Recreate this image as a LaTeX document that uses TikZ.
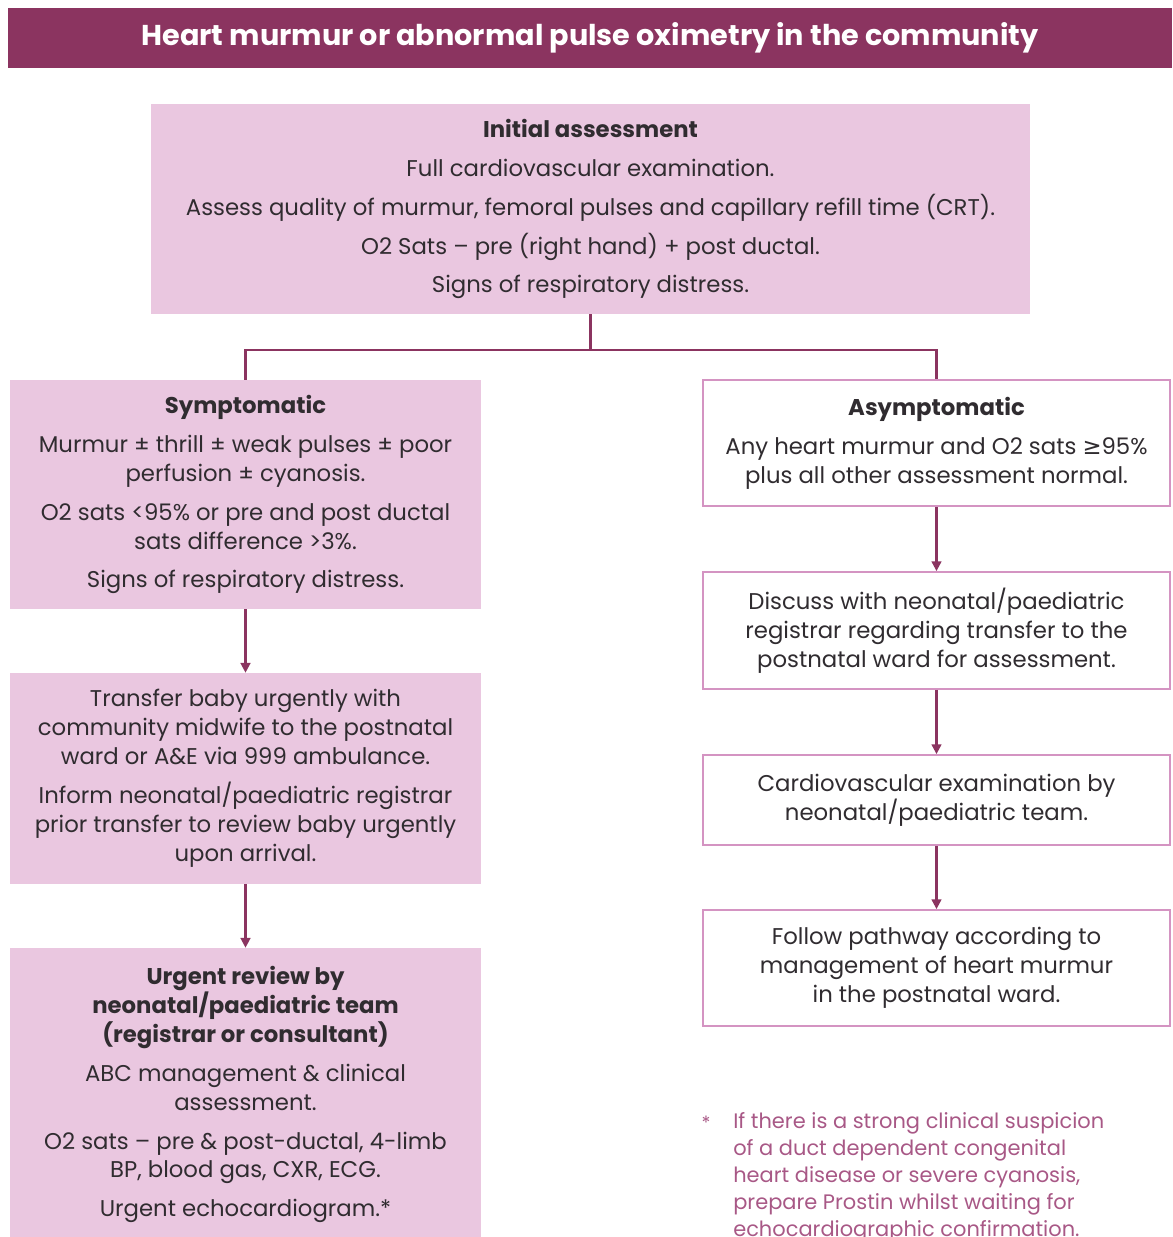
\documentclass[tikz,border=0pt]{standalone}
\usepackage{fontspec}
\usetikzlibrary{arrows.meta}
\setmainfont{Poppins}
\newfontfamily\symfont{DejaVu Sans}
\definecolor{plum}{RGB}{139,52,96}
\definecolor{blush}{RGB}{234,199,224}
\definecolor{rim}{RGB}{212,148,194}
\definecolor{ink}{RGB}{48,44,48}
\definecolor{notecol}{RGB}{168,88,134}

\begin{document}
\begin{tikzpicture}[x=0.025cm,y=-0.025cm,
	pinkbox/.style={fill=blush, draw=none, align=center, inner sep=0pt, text=ink, font=\fontsize{16.2}{20.6}\selectfont},
	whitebox/.style={pinkbox, fill=white, draw=rim, line width=1.3pt},
	flow/.style={draw=plum, line width=1.5pt},
	flowarrow/.style={flow, -{Triangle[width=7pt,length=7pt]}}]
	\useasboundingbox (0,0) rectangle (1172,1237);
	\draw (590,38) node[fill=plum, text=white, minimum width=1164*0.025cm, minimum height=60*0.025cm, font=\fontsize{20.4}{22}\selectfont\bfseries](head) {Heart murmur or abnormal pulse oximetry in the community};
	\draw (590.5,209) node[pinkbox, minimum width=879*0.025cm, minimum height=210*0.025cm](init) {\textbf{Initial assessment}\\[0.25cm] Full cardiovascular examination.\\[0.25cm] Assess quality of murmur, femoral pulses and capillary refill time (CRT).\\[0.25cm] O2 Sats -- pre (right hand) + post ductal.\\[0.25cm] Signs of respiratory distress.};
	\draw (245.5,494.5) node[pinkbox, minimum width=471*0.025cm, minimum height=229*0.025cm](symp) {\textbf{Symptomatic}\\[0.25cm] Murmur ± thrill ± weak pulses ± poor\\ perfusion ± cyanosis.\\[0.25cm] O2 sats <95\% or pre and post ductal\\ sats difference >3\%.\\[0.25cm] Signs of respiratory distress.};
	\draw (245.5,778.5) node[pinkbox, minimum width=471*0.025cm, minimum height=211*0.025cm](transfer) {Transfer baby urgently with\\ community midwife to the postnatal\\ ward or A\&E via 999 ambulance.\\[0.25cm] Inform neonatal/paediatric registrar\\ prior transfer to review baby urgently\\ upon arrival.};
	\draw (245.5,1094.5) node[pinkbox, minimum width=471*0.025cm, minimum height=293*0.025cm](urgent) {\textbf{Urgent review by}\\ \textbf{neonatal/paediatric team}\\ \textbf{(registrar or consultant)}\\[0.25cm] ABC management \& clinical\\ assessment.\\[0.25cm] O2 sats -- pre \& post-ductal, 4-limb\\ BP, blood gas, CXR, ECG.\\[0.25cm] Urgent echocardiogram.*};
	\draw (936.5,443) node[whitebox, minimum width=467*0.025cm, minimum height=126*0.025cm](asymp) {\textbf{Asymptomatic}\\[0.25cm] Any heart murmur and O2 sats {\symfont ≥}95\%\\ plus all other assessment normal.};
	\draw (936.5,630.5) node[whitebox, minimum width=467*0.025cm, minimum height=117*0.025cm](discuss) {Discuss with neonatal/paediatric\\ registrar regarding transfer to the\\ postnatal ward for assessment.};
	\draw (936.5,800) node[whitebox, minimum width=467*0.025cm, minimum height=90*0.025cm](cardio) {Cardiovascular examination by\\ neonatal/paediatric team.};
	\draw (936.5,968) node[whitebox, minimum width=467*0.025cm, minimum height=116*0.025cm](follow) {Follow pathway according to\\ management of heart murmur\\ in the postnatal ward.};
	\draw (706,1123) node[text=notecol, font=\fontsize{13}{19}\selectfont](star) {*};
	\draw (733,1112) node[anchor=north west, inner sep=0pt, align=left, text=notecol, font=\fontsize{14.9}{19.2}\selectfont](note) {If there is a strong clinical suspicion\\ of a duct dependent congenital\\ heart disease or severe cyanosis,\\ prepare Prostin whilst waiting for\\ echocardiographic confirmation.};
	\draw[flow] (init.south) -- ++(0,36) -| (symp.north);
	\draw[flow] (init.south) -- ++(0,36) -| (asymp.north);
	\draw[flowarrow] (symp) -- (transfer);
	\draw[flowarrow] (transfer) -- (urgent);
	\draw[flowarrow] (asymp) -- (discuss);
	\draw[flowarrow] (discuss) -- (cardio);
	\draw[flowarrow] (cardio) -- (follow);
\end{tikzpicture}
\end{document}
